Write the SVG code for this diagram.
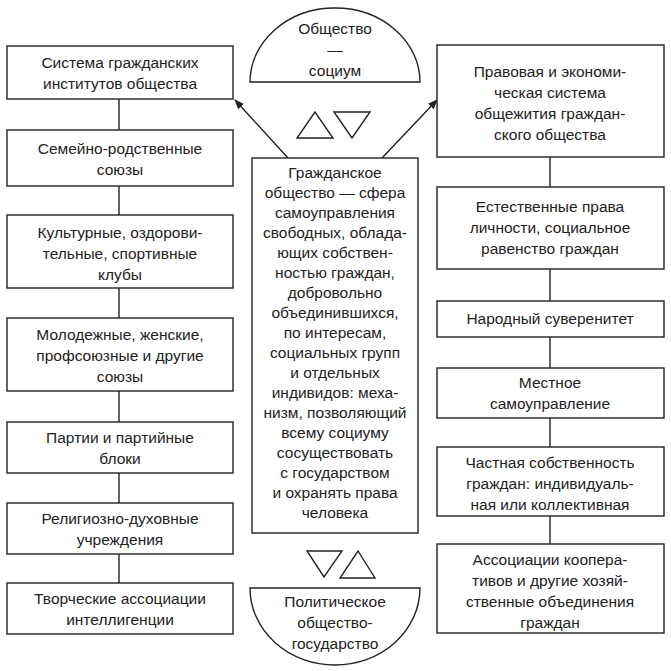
<svg xmlns="http://www.w3.org/2000/svg" width="671" height="671" viewBox="0 0 671 671">
<defs>
<style>
rect,path.s,polygon.t{fill:#fff;stroke:#222;stroke-width:1.4}
line{stroke:#222;stroke-width:1.4}
text{font-family:"Liberation Sans",Arial,sans-serif;font-size:15.5px;fill:#222;text-anchor:middle}
</style>
<marker id="ah" markerWidth="10" markerHeight="8" refX="9" refY="4" orient="auto" markerUnits="userSpaceOnUse" viewBox="0 0 10 8"><path d="M0,0 L10,4 L0,8 z" fill="#222"/></marker>
</defs>
<rect width="671" height="671" fill="#fff" style="stroke:none"/>
<g id="connectors">
<line x1="119" y1="99" x2="119" y2="130"/>
<line x1="119" y1="186" x2="119" y2="215"/>
<line x1="119" y1="288" x2="119" y2="318"/>
<line x1="119" y1="391" x2="119" y2="422"/>
<line x1="119" y1="473" x2="119" y2="503"/>
<line x1="119" y1="554" x2="119" y2="583"/>
<line x1="550" y1="157" x2="550" y2="187"/>
<line x1="550" y1="269" x2="550" y2="301"/>
<line x1="550" y1="337" x2="550" y2="368"/>
<line x1="550" y1="418" x2="550" y2="447"/>
<line x1="550" y1="516" x2="550" y2="544"/>
<line x1="288" y1="158" x2="235" y2="100" marker-end="url(#ah)"/>
<line x1="382" y1="158" x2="437" y2="100" marker-end="url(#ah)"/>
</g>
<g id="top">
<path class="s" d="M250,82 A85,74 0 0 1 420,82 Z"/>
<text x="335" y="34">Общество</text>
<text x="335" y="55">—</text>
<text x="335" y="76">социум</text>
</g>
<g id="triangles">
<polygon class="t" points="297,138 333,138 315,112"/>
<polygon class="t" points="334,112 370,112 352,138"/>
<polygon class="t" points="307,551 342,551 324,577"/>
<polygon class="t" points="340,578 375,578 358,551"/>
</g>
<g id="bottom">
<path class="s" d="M250,588 L420,588 A85,77 0 0 1 250,588 Z"/>
<text x="335" y="607">Политическое</text>
<text x="335" y="628">общество-</text>
<text x="335" y="649">государство</text>
</g>
<g id="center">
<rect x="252" y="158" width="166" height="375"/>
<text x="335" y="178">Гражданское</text>
<text x="335" y="198">общество — сфера</text>
<text x="335" y="218">самоуправления</text>
<text x="335" y="238">свободных, облада-</text>
<text x="335" y="258">ющих собствен-</text>
<text x="335" y="278">ностью граждан,</text>
<text x="335" y="298">добровольно</text>
<text x="335" y="318">объединившихся,</text>
<text x="335" y="338">по интересам,</text>
<text x="335" y="358">социальных групп</text>
<text x="335" y="378">и отдельных</text>
<text x="335" y="398">индивидов: меха-</text>
<text x="335" y="418">низм, позволяющий</text>
<text x="335" y="438">всему социуму</text>
<text x="335" y="458">сосуществовать</text>
<text x="335" y="478">с государством</text>
<text x="335" y="498">и охранять права</text>
<text x="335" y="518">человека</text>
</g>
<g id="L1"><rect x="7" y="46" width="226" height="53"/><text x="120" y="68">Система гражданских</text><text x="120" y="89">институтов общества</text></g>
<g id="L2"><rect x="7" y="130" width="226" height="56"/><text x="120" y="154">Семейно-родственные</text><text x="120" y="175">союзы</text></g>
<g id="L3"><rect x="7" y="215" width="226" height="73"/><text x="120" y="238">Культурные, оздорови-</text><text x="120" y="259">тельные, спортивные</text><text x="120" y="280">клубы</text></g>
<g id="L4"><rect x="7" y="318" width="226" height="73"/><text x="120" y="340">Молодежные, женские,</text><text x="120" y="361">профсоюзные и другие</text><text x="120" y="382">союзы</text></g>
<g id="L5"><rect x="7" y="422" width="226" height="51"/><text x="120" y="443">Партии и партийные</text><text x="120" y="464">блоки</text></g>
<g id="L6"><rect x="7" y="503" width="226" height="51"/><text x="120" y="524">Религиозно-духовные</text><text x="120" y="545">учреждения</text></g>
<g id="L7"><rect x="7" y="583" width="226" height="51"/><text x="120" y="604">Творческие ассоциации</text><text x="120" y="625">интеллигенции</text></g>
<g id="R1"><rect x="437" y="45" width="227" height="112"/><text x="550" y="77">Правовая и экономи-</text><text x="550" y="98">ческая система</text><text x="550" y="119">общежития граждан-</text><text x="550" y="140">ского общества</text></g>
<g id="R2"><rect x="437" y="187" width="227" height="82"/><text x="550" y="212">Естественные права</text><text x="550" y="233">личности, социальное</text><text x="550" y="254">равенство граждан</text></g>
<g id="R3"><rect x="437" y="301" width="227" height="36"/><text x="550" y="324">Народный суверенитет</text></g>
<g id="R4"><rect x="437" y="368" width="227" height="50"/><text x="550" y="388">Местное</text><text x="550" y="409">самоуправление</text></g>
<g id="R5"><rect x="437" y="447" width="227" height="69"/><text x="550" y="468">Частная собственность</text><text x="550" y="489">граждан: индивидуаль-</text><text x="550" y="510">ная или коллективная</text></g>
<g id="R6"><rect x="437" y="544" width="227" height="89"/><text x="550" y="565">Ассоциации коопера-</text><text x="550" y="586">тивов и другие хозяй-</text><text x="550" y="607">ственные объединения</text><text x="550" y="628">граждан</text></g>
</svg>
